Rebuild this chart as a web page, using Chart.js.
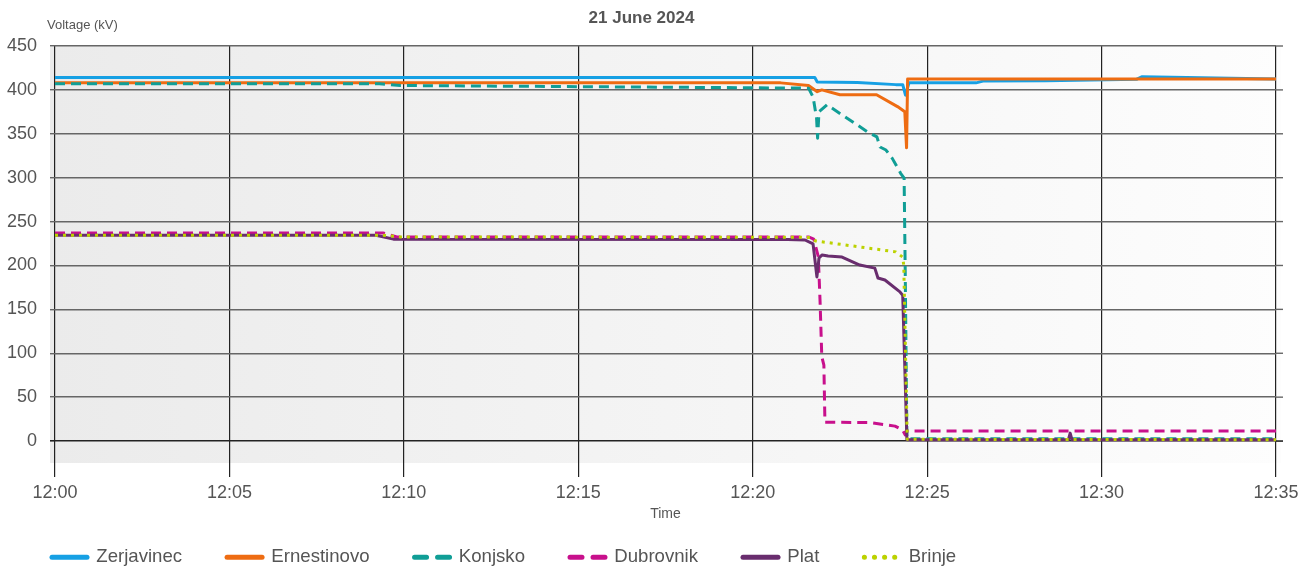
<!DOCTYPE html>
<html><head><meta charset="utf-8">
<script src="https://cdn.jsdelivr.net/npm/chart.js@4.4.1/dist/chart.umd.min.js"></script>
<style>html,body{margin:0;padding:0;background:#fff;overflow:hidden;}</style>
</head><body>
<canvas id="c" width="1315" height="574"></canvas>
<script>
// ---------- data ----------
const chartTitle = '21 June 2024';
const yAxisTitle = 'Voltage (kV)';
const xAxisTitle = 'Time';
const timeTicks = [0, 5, 10, 15, 20, 25, 30, 35];           // minutes after 12:00
const timeLabels = ['12:00', '12:05', '12:10', '12:15', '12:20', '12:25', '12:30', '12:35'];
const voltageTicks = [0, 50, 100, 150, 200, 250, 300, 350, 400, 450];

const seriesNames = ['Zerjavinec', 'Ernestinovo', 'Konjsko', 'Dubrovnik', 'Plat', 'Brinje'];

const zerjavinecTime = [0, 21.78, 21.85, 23.0, 24.1, 24.3, 24.38, 24.48, 26.4, 26.6, 28.4, 31.0, 31.15, 35];
const zerjavinecKV   = [414, 414, 409, 408.5, 406, 406, 394, 408, 408, 410, 410.5, 412, 415, 412.5];

const ernestinovoTime = [0, 20.8, 21.6, 21.85, 21.98, 22.5, 23.55, 24.15, 24.36, 24.41, 24.44, 35];
const ernestinovoKV   = [408, 408, 405, 398, 400, 394.5, 394.5, 381, 375, 334, 412.5, 412.5];

const konjskoTime = [0, 9.3, 9.9, 21.6, 21.73, 21.83, 21.86, 21.9, 22.13, 23.3, 23.56, 23.65, 23.82, 24.0, 24.24, 24.34, 24.37, 24.42, 24.6, 35];
const konjskoKV   = [407, 407, 405, 402, 392, 368, 345, 375, 383, 352, 346.5, 335, 331.5, 322, 305, 299.5, 200, 3, 2.5, 2.5];

const dubrovnikTime = [0, 9.4, 9.8, 21.6, 21.75, 21.88, 21.93, 21.98, 22.04, 22.07, 23.36, 24.08, 24.3, 24.37, 24.42, 35];
const dubrovnikKV   = [237, 237, 232.5, 232.5, 230, 210, 160, 96, 86.6, 21.5, 21, 17, 12.5, 7, 11.4, 11.4];

const platTime = [0, 9.2, 9.7, 21.0, 21.5, 21.73, 21.84, 21.9, 21.99, 22.16, 22.56, 23.07, 23.5, 23.59, 23.79, 24.22, 24.3, 24.42, 29.05, 29.1, 29.15, 35];
const platKV   = [234.5, 234.5, 230, 229.5, 229, 224.5, 187, 208.5, 212, 210.7, 209.6, 200.5, 197, 185.7, 183.4, 170, 166, 1.5, 1.5, 9, 1.5, 1.5];

const brinjeTime = [0, 9.4, 9.9, 21.65, 21.8, 24.1, 24.3, 24.33, 24.43, 35];
const brinjeKV   = [234.5, 234.5, 232.5, 232, 228, 215.5, 209.5, 200, 2, 1.5];

// ---------- styles ----------
const seriesColors = ['#16a0e4', '#ee6c12', '#109e96', '#c8108c', '#692d6e', '#bcd200'];
const seriesDash = [[], [], [10, 6], [10, 6], [], [3, 5]];
const legendDash = [[], [], [12, 11], [12, 11], [], [0.1, 10]];

const times = [zerjavinecTime, ernestinovoTime, konjskoTime, dubrovnikTime, platTime, brinjeTime];
const values = [zerjavinecKV, ernestinovoKV, konjskoKV, dubrovnikKV, platKV, brinjeKV];

const FONT = "'Liberation Sans', Arial, sans-serif";
Chart.defaults.font.family = FONT;
Chart.defaults.color = '#555';

const datasets = seriesNames.map((name, i) => ({
  label: name,
  data: times[i].map((t, k) => ({ x: t, y: values[i][k] })),
  borderColor: seriesColors[i],
  backgroundColor: seriesColors[i],
  borderWidth: 3,
  borderDash: seriesDash[i],
  borderCapStyle: 'butt',
  borderJoinStyle: 'round',
  pointRadius: 0,
  tension: 0,
  fill: false,
  order: seriesNames.length - i
}));

const bgPlugin = {
  id: 'bg',
  beforeDraw(chart) {
    const { ctx, chartArea: a } = chart;
    const g = ctx.createLinearGradient(a.left - 5, 0, a.right + 5, 0);
    g.addColorStop(0, '#ebebeb');
    g.addColorStop(1, '#fdfdfd');
    ctx.save();
    ctx.fillStyle = g;
    ctx.fillRect(a.left - 5, a.top, a.right - a.left + 10, a.bottom - a.top);
    ctx.restore();
  },
  beforeDatasetsDraw(chart) {
    const { ctx, chartArea: a, scales } = chart;
    ctx.save();
    voltageTicks.forEach(v => {
      const y = scales.y.getPixelForValue(v);
      ctx.strokeStyle = v === 0 ? '#222' : '#666';
      ctx.lineWidth = v === 0 ? 1.6 : 1.4;
      ctx.beginPath();
      ctx.moveTo(a.right, y);
      ctx.lineTo(a.right + 7, y);
      ctx.stroke();
    });
    ctx.restore();
  },
  afterDraw(chart) {
    const { ctx, chartArea: a } = chart;
    ctx.save();
    ctx.font = '13px ' + FONT;
    ctx.fillStyle = '#555';
    ctx.textAlign = 'left';
    ctx.textBaseline = 'middle';
    ctx.fillText(yAxisTitle, a.left - 8, a.top - 21);
    ctx.restore();
  }
};

new Chart(document.getElementById('c'), {
  type: 'line',
  data: { datasets },
  plugins: [bgPlugin],
  options: {
    responsive: false,
    animation: false,
    devicePixelRatio: 1,
    layout: { padding: { left: 7, right: 39, top: 0, bottom: 0 } },
    plugins: {
      tooltip: { enabled: false },
      title: {
        display: true,
        text: chartTitle,
        color: '#555',
        font: { size: 17, weight: 'bold' },
        padding: { top: 8, bottom: 17.6 }
      },
      legend: {
        position: 'bottom',
        align: 'start',
        maxHeight: 71,
        labels: {
          usePointStyle: true,
          pointStyle: 'line',
          pointStyleWidth: 35,
          padding: 45,
          color: '#555',
          font: { size: 18.6 },
          sort: (a, b) => a.datasetIndex - b.datasetIndex,
          generateLabels: (chart) => chart.data.datasets.map((ds, i) => ({
            text: ds.label,
            datasetIndex: i,
            fillStyle: ds.borderColor,
            strokeStyle: ds.borderColor,
            fontColor: '#555',
            lineWidth: 5,
            lineDash: legendDash[i],
            lineCap: 'round',
            pointStyle: 'line',
            hidden: false
          }))
        }
      }
    },
    scales: {
      x: {
        type: 'linear',
        min: 0,
        max: 35,
        afterFit: (s) => { s.height = 40; },
        afterBuildTicks: (s) => { s.ticks = timeTicks.map(v => ({ value: v })); },
        ticks: {
          padding: 5,
          color: '#555',
          font: { size: 18 },
          maxRotation: 0,
          callback: (v) => timeLabels[timeTicks.indexOf(v)]
        },
        grid: { color: '#222', lineWidth: 1.2, tickLength: 14, drawTicks: true },
        border: { display: false },
        title: {
          display: true,
          text: xAxisTitle,
          color: '#555',
          font: { size: 14 },
          padding: { top: 0, bottom: -19.4 }
        }
      },
      y: {
        type: 'linear',
        min: -25,
        max: 450,
        afterFit: (s) => { s.width = 48; },
        afterBuildTicks: (s) => { s.ticks = voltageTicks.map(v => ({ value: v })); },
        ticks: { padding: 13, color: '#555', font: { size: 18 } },
        grid: {
          color: (c) => (c.tick && c.tick.value === 0) ? '#222' : '#666',
          lineWidth: (c) => (c.tick && c.tick.value === 0) ? 1.6 : 1.4,
          tickLength: 5
        },
        border: { display: false }
      }
    }
  }
});
</script>
</body></html>
